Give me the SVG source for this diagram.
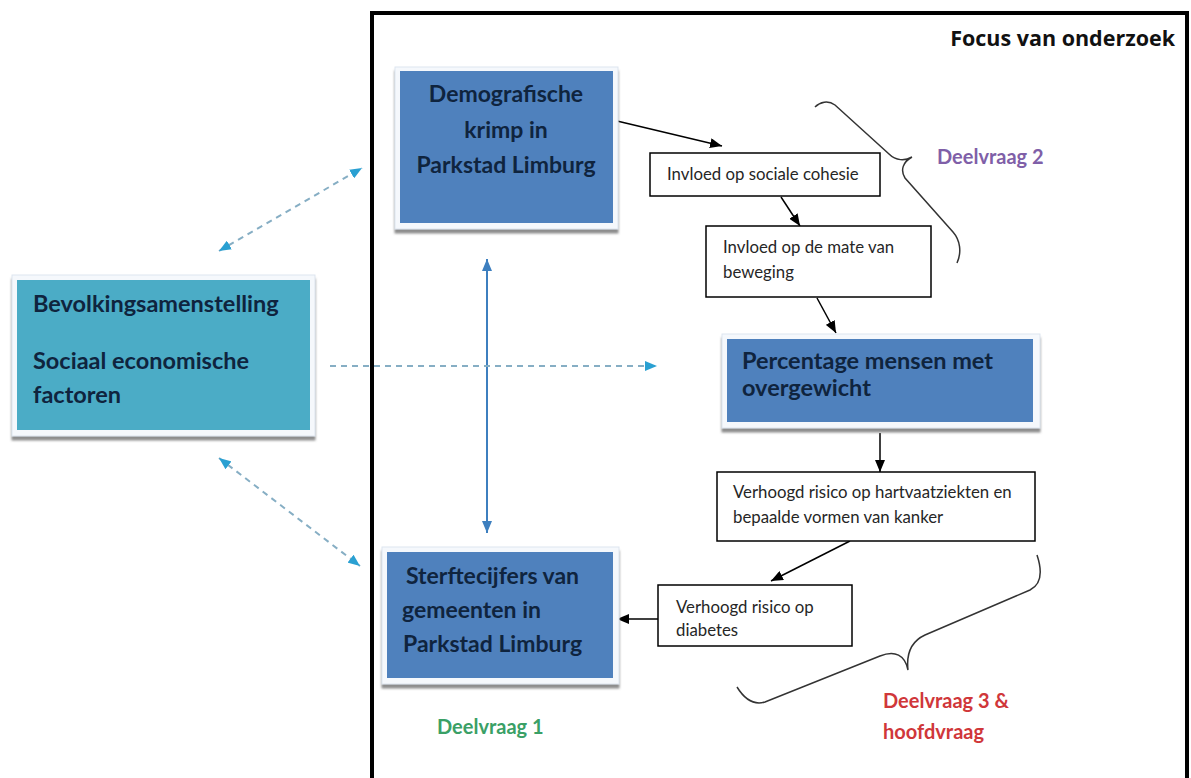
<svg xmlns="http://www.w3.org/2000/svg" width="1191" height="778" viewBox="0 0 1191 778">
<style>
.bt{font-family:Lato,"Open Sans","Liberation Sans",sans-serif;font-weight:bold;fill:#0F243E;font-size:23px}
.st{font-family:Lato,"Open Sans","Liberation Sans",sans-serif;fill:#262626;font-size:16.8px}
.sm{fill:#fff;stroke:#000;stroke-width:1.5}
.frame{fill:#f5f8fc;stroke:#dde5ef;stroke-width:1;filter:url(#sh)}
.blk{stroke:#000;stroke-width:1.5;fill:none;marker-end:url(#ab)}
.dash{stroke:#86aec4;stroke-width:2;stroke-dasharray:6 5;fill:none}
.brace{fill:none;stroke:#333;stroke-width:1.5}
.lbl{font-family:Lato,"Open Sans","Liberation Sans",sans-serif;font-weight:bold;font-size:20px}
</style>
<defs>
<filter id="sh" x="-5%" y="-5%" width="115%" height="120%">
<feDropShadow dx="0" dy="4" stdDeviation="1.2" flood-color="#808080" flood-opacity="0.9"/>
</filter>
<marker id="ab" viewBox="0 0 12 10" markerWidth="12" markerHeight="10" refX="12" refY="5" orient="auto" markerUnits="userSpaceOnUse"><path d="M0,0 L12,5 L0,10 z" fill="#000"/></marker>
<marker id="ac" viewBox="0 0 12 10" markerWidth="12" markerHeight="10" refX="12" refY="5" orient="auto-start-reverse" markerUnits="userSpaceOnUse"><path d="M0,0 L12,5 L0,10 z" fill="#2AA0D2"/></marker>
<marker id="abl" viewBox="0 0 12 10" markerWidth="12" markerHeight="10" refX="12" refY="5" orient="auto-start-reverse" markerUnits="userSpaceOnUse"><path d="M0,0 L12,5 L0,10 z" fill="#3D7FBF"/></marker>
</defs>
<rect width="1191" height="778" fill="#fff"/>

<g id="focus">
<rect x="372" y="13" width="815" height="790" fill="none" stroke="#000" stroke-width="4"/>
<text x="1175" y="46" text-anchor="end" style="font-family:'Open Sans',Lato,'Liberation Sans',sans-serif;font-weight:bold;font-size:21.5px;fill:#111">Focus van onderzoek</text>
</g>

<g id="connectors">
<line x1="617" y1="121" x2="722" y2="146" class="blk"/>
<line x1="781" y1="197" x2="800" y2="226" class="blk"/>
<line x1="817" y1="298" x2="836" y2="333" class="blk"/>
<line x1="880" y1="433" x2="880" y2="472" class="blk"/>
<line x1="850" y1="541" x2="771" y2="581" class="blk"/>
<line x1="658" y1="619" x2="617" y2="619" class="blk"/>
<line x1="487" y1="259" x2="487" y2="533" stroke="#3D7FBF" stroke-width="2" marker-start="url(#abl)" marker-end="url(#abl)"/>
<line x1="219" y1="251" x2="362" y2="168" class="dash" marker-start="url(#ac)" marker-end="url(#ac)"/>
<line x1="219" y1="458" x2="360" y2="566" class="dash" marker-start="url(#ac)" marker-end="url(#ac)"/>
<line x1="330" y1="366" x2="657" y2="366" class="dash" marker-end="url(#ac)"/>
</g>

<g id="demografische">
<rect x="395" y="67" width="223" height="162" class="frame"/>
<rect x="400" y="71" width="213" height="152" fill="#4F81BD"/>
<text class="bt" text-anchor="middle"><tspan x="506" y="102">Demografische</tspan><tspan x="506" y="138">krimp in</tspan><tspan x="506" y="173">Parkstad Limburg</tspan></text>
</g>

<g id="bevolking">
<rect x="12" y="275" width="303" height="161" class="frame"/>
<rect x="17" y="280" width="293" height="150" fill="#4BACC6"/>
<text class="bt" style="font-size:23.5px"><tspan x="33" y="312">Bevolkingsamenstelling</tspan><tspan x="33" y="369">Sociaal economische</tspan><tspan x="33" y="403">factoren</tspan></text>
</g>

<g id="sterfte">
<rect x="382" y="547" width="237" height="137" class="frame"/>
<rect x="387" y="552" width="226" height="126" fill="#4F81BD"/>
<text class="bt"><tspan x="406" y="584">Sterftecijfers van</tspan><tspan x="402" y="618">gemeenten in</tspan><tspan x="403" y="652">Parkstad Limburg</tspan></text>
</g>

<g id="percentage">
<rect x="722" y="334" width="318" height="94" class="frame"/>
<rect x="727" y="339" width="306" height="83" fill="#4F81BD"/>
<text class="bt" style="font-size:23.5px"><tspan x="742" y="369">Percentage mensen met</tspan><tspan x="742" y="396">overgewicht</tspan></text>
</g>

<g id="cohesie">
<rect x="650" y="153" width="230" height="43" class="sm"/>
<text class="st" x="667" y="180">Invloed op sociale cohesie</text>
</g>

<g id="beweging">
<rect x="706" y="226" width="225" height="71" class="sm"/>
<text class="st"><tspan x="723" y="253">Invloed op de mate van</tspan><tspan x="723" y="278">beweging</tspan></text>
</g>

<g id="hartvaat">
<rect x="717" y="472" width="318" height="69" class="sm"/>
<text class="st"><tspan x="733" y="498">Verhoogd risico op hartvaatziekten en</tspan><tspan x="733" y="523">bepaalde vormen van kanker</tspan></text>
</g>

<g id="diabetes">
<rect x="658" y="585" width="194" height="61" class="sm"/>
<text class="st"><tspan x="676" y="613">Verhoogd risico op</tspan><tspan x="676" y="636">diabetes</tspan></text>
</g>

<g id="braces">
<path class="brace" d="M815,107 C820,102 828,100 835,105 L889,154 C896,161 905,161 912,157 C903,162 900,170 905,178 L953,232 C960,240 962,252 957,263"/>
<path class="brace" d="M737,687 C745,700 755,705 765,702 L880,656 C895,650 905,655 908,670 C906,652 912,641 925,635 L1030,590 C1042,584 1042,570 1037,555"/>
</g>

<g id="labels">
<text class="lbl" x="937" y="164" fill="#7F5FA8">Deelvraag 2</text>
<text class="lbl" x="437" y="734" fill="#3AA066">Deelvraag 1</text>
<text class="lbl" fill="#D0373A"><tspan x="883" y="708">Deelvraag 3 &amp;</tspan><tspan x="883" y="739">hoofdvraag</tspan></text>
</g>
</svg>
